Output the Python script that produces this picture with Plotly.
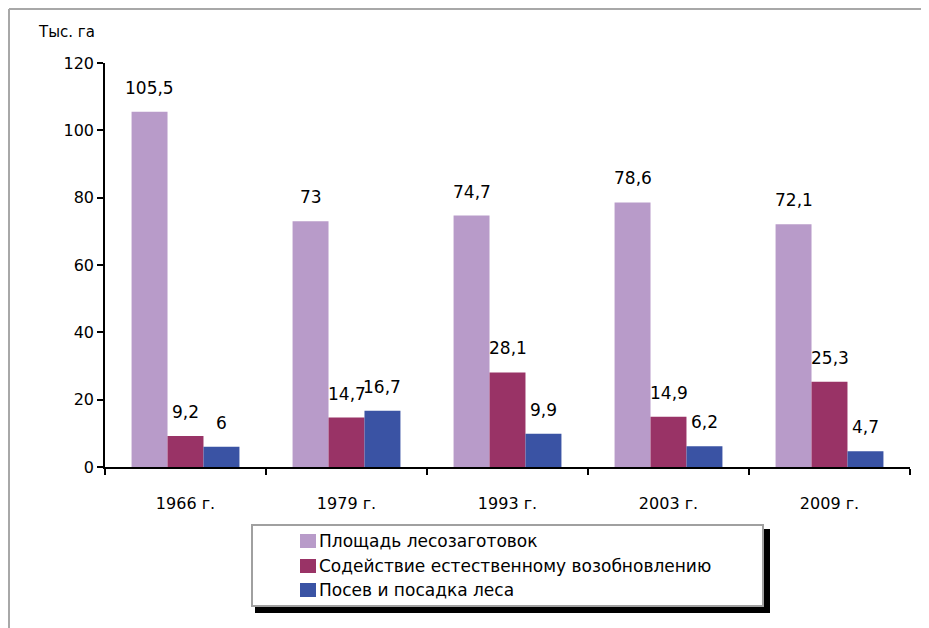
import plotly.graph_objects as go

categories = ["1966 г.", "1979 г.", "1993 г.", "2003 г.", "2009 г."]
series_names = ["Площадь лесозаготовок", "Содействие естественному возобновлению", "Посев и посадка леса"]
area_cut = [105.5, 73, 74.7, 78.6, 72.1]
natural_regen = [9.2, 14.7, 28.1, 14.9, 25.3]
planting = [6, 16.7, 9.9, 6.2, 4.7]
y_ticks = [0, 20, 40, 60, 80, 100, 120]
y_label = "Тыс. га"

series_values = [area_cut, natural_regen, planting]
colors = ["#B89BC9", "#993366", "#3A53A4"]

OFF = 8  # page body margin of the browser
W, H = 929 - OFF, 628 - OFF
ML, MR, MT, MB = 105 - OFF, 19, 63 - OFF, 161
PW, PH = W - ML - MR, H - MT - MB
BARGAP = 0.33
FONT = "DejaVu Sans"


def px(x):
    return (x - OFF - ML) / PW


def py(y):
    return (H - MB - (y - OFF)) / PH


def fmt(v):
    return ("%g" % v).replace(".", ",")


fig = go.Figure()
for name, vals, col in zip(series_names, series_values, colors):
    fig.add_trace(go.Bar(x=categories, y=vals, name=name, marker=dict(color=col, line=dict(width=0)),
                         showlegend=False, hoverinfo="x+y"))

annotations = []
n = len(series_values)
w = (1 - BARGAP) / n
for j, vals in enumerate(series_values):
    for i, v in enumerate(vals):
        annotations.append(dict(x=i + (j - (n - 1) / 2) * w, y=v, xref="x", yref="y", text=fmt(v),
                                showarrow=False, yanchor="middle", yshift=24,
                                font=dict(family=FONT, size=17, color="#000")))

annotations.append(dict(x=px(36), y=py(32), xref="paper", yref="paper", text=y_label, showarrow=False,
                        xanchor="left", yanchor="middle", font=dict(family=FONT, size=15, color="#000")))

shapes = []
# outer frame (gray)
shapes.append(dict(type="line", xref="paper", yref="paper", x0=px(9), x1=px(9), y0=py(640), y1=py(9),
                   line=dict(color="#A8A8A8", width=2)))
shapes.append(dict(type="line", xref="paper", yref="paper", x0=px(9), x1=px(940), y0=py(9), y1=py(9),
                   line=dict(color="#A8A8A8", width=2)))
# legend shadow
shapes.append(dict(type="rect", xref="paper", yref="paper", x0=px(763), x1=px(770), y0=py(613), y1=py(529),
                   fillcolor="#000", line=dict(width=0)))
shapes.append(dict(type="rect", xref="paper", yref="paper", x0=px(255), x1=px(770), y0=py(613), y1=py(606),
                   fillcolor="#000", line=dict(width=0)))
# legend box
shapes.append(dict(type="rect", xref="paper", yref="paper", x0=px(252), x1=px(763), y0=py(606), y1=py(525),
                   fillcolor="#fff", line=dict(color="#A0A0A0", width=2)))
row_y = [541, 566, 590]
for name, col, ry in zip(series_names, colors, row_y):
    shapes.append(dict(type="rect", xref="paper", yref="paper", x0=px(300), x1=px(316), y0=py(ry + 7), y1=py(ry - 7),
                       fillcolor=col, line=dict(width=0)))
    annotations.append(dict(x=px(317), y=py(ry), xref="paper", yref="paper", text=name, showarrow=False,
                            xanchor="left", yanchor="middle", font=dict(family=FONT, size=17, color="#000")))

fig.update_layout(
    width=W, height=H,
    margin=dict(l=ML, r=MR, t=MT, b=MB, pad=0),
    paper_bgcolor="#fff", plot_bgcolor="#fff",
    barmode="group", bargap=BARGAP, bargroupgap=0,
    font=dict(family=FONT, size=16, color="#000"),
    annotations=annotations, shapes=shapes,
    showlegend=False,
)
fig.update_xaxes(type="category", range=[-0.5, len(categories) - 0.5], showline=True, linecolor="#000", linewidth=1.5,
                 ticks="outside", tickson="boundaries", ticklen=6, tickwidth=1.5, tickcolor="#000",
                 showgrid=False, zeroline=False, ticklabelstandoff=21,
                 tickfont=dict(family=FONT, size=16, color="#000"))
fig.update_yaxes(range=[0, 120], tickvals=y_ticks, showline=True, linecolor="#000", linewidth=1.5,
                 ticks="outside", ticklen=6, tickwidth=1.5, tickcolor="#000", showgrid=False, zeroline=False,
                 tickfont=dict(family=FONT, size=16, color="#000"))

fig.write_html("out.html")
